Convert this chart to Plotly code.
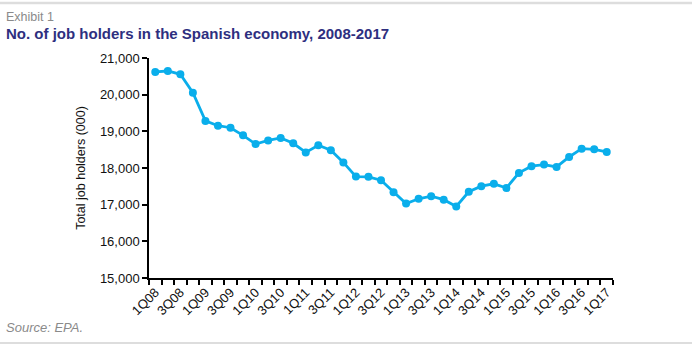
import plotly.graph_objects as go

quarters = ["1Q08", "2Q08", "3Q08", "4Q08", "1Q09", "2Q09", "3Q09", "4Q09",
            "1Q10", "2Q10", "3Q10", "4Q10", "1Q11", "2Q11", "3Q11", "4Q11",
            "1Q12", "2Q12", "3Q12", "4Q12", "1Q13", "2Q13", "3Q13", "4Q13",
            "1Q14", "2Q14", "3Q14", "4Q14", "1Q15", "2Q15", "3Q15", "4Q15",
            "1Q16", "2Q16", "3Q16", "4Q16", "1Q17"]
job_holders = [20620, 20646, 20556, 20055, 19284, 19154, 19098, 18890,
               18652, 18751, 18820, 18675, 18426, 18622, 18484, 18153,
               17765, 17758, 17667, 17339, 17030, 17160, 17230, 17136,
               16951, 17353, 17504, 17569, 17455, 17867, 18049, 18094,
               18029, 18301, 18528, 18508, 18438]
y_ticks = [15000, 16000, 17000, 18000, 19000, 20000, 21000]

W, H = 696, 346
L, R, T, B = 149, 83, 58, 68
pw, ph = W - L - R, H - T - B

def px(x):
    return (x - L) / pw

def py(y):
    return (H - B - y) / ph

idx = list(range(len(quarters)))
label_idx = idx[::2]

fig = go.Figure()
fig.add_trace(go.Scatter(
    x=idx, y=job_holders, mode="lines+markers",
    line=dict(color="#0AAEEB", width=2.8),
    marker=dict(color="#0AAEEB", size=8),
    hoverinfo="skip", showlegend=False,
))

font = "Liberation Sans, Arial, sans-serif"
fig.update_layout(
    width=W, height=H,
    margin=dict(l=L, r=R, t=T, b=B),
    paper_bgcolor="white", plot_bgcolor="white",
    font=dict(family=font, size=13, color="#222"),
    xaxis=dict(
        range=[-0.5, len(quarters) - 0.5],
        tickmode="array", tickvals=label_idx,
        ticktext=[quarters[i] for i in label_idx],
        tickangle=-45, ticks="", showgrid=False, zeroline=False,
        showline=True, linecolor="#000", linewidth=1.5,
        tickfont=dict(size=13, color="#111"),
        minor=dict(ticks="outside", tickmode="linear", tick0=-0.5, dtick=1,
                   ticklen=5, tickwidth=1.5, tickcolor="#000", showgrid=False),
    ),
    yaxis=dict(
        range=[15000, 21000], tickmode="array", tickvals=y_ticks,
        tickformat=",d", ticks="outside", ticklen=5, tickwidth=1.5,
        tickcolor="#000", showgrid=False, zeroline=False,
        showline=True, linecolor="#000", linewidth=1.5,
        tickfont=dict(size=13, color="#111"),
        title=dict(text="Total job holders (000)", standoff=12,
                   font=dict(size=12.5, color="#111")),
    ),
    shapes=[
        dict(type="line", xref="paper", yref="paper", x0=px(0), x1=px(692),
             y0=py(3), y1=py(3), line=dict(color="#DDDDDD", width=2.5)),
        dict(type="line", xref="paper", yref="paper", x0=px(0), x1=px(692),
             y0=py(343), y1=py(343), line=dict(color="#DDDDDD", width=2)),
    ],
    annotations=[
        dict(text="Exhibit 1", xref="paper", yref="paper", x=px(4), y=py(17),
             xanchor="left", yanchor="middle", showarrow=False,
             font=dict(size=12.5, color="#8A8A8A", family=font)),
        dict(text="<b>No. of job holders in the Spanish economy, 2008-2017</b>",
             xref="paper", yref="paper", x=px(4), y=py(34),
             xanchor="left", yanchor="middle", showarrow=False,
             font=dict(size=15, color="#2E2F7F", family=font)),
        dict(text="<i>Source: EPA.</i>", xref="paper", yref="paper",
             x=px(4), y=py(327), xanchor="left", yanchor="middle",
             showarrow=False, font=dict(size=13, color="#8A8A8A", family=font)),
    ],
)

fig.write_html("out.html")
